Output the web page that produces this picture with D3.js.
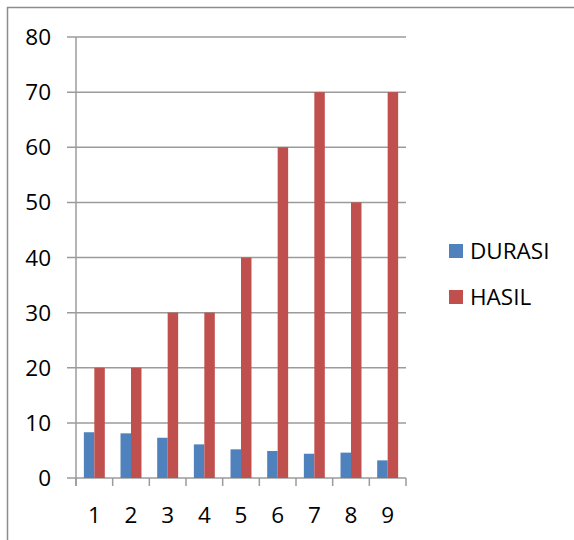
<!DOCTYPE html>
<html><head><meta charset="utf-8">
<script src="https://cdn.jsdelivr.net/npm/d3@7"></script>
<style>body{margin:0;background:#fff}svg{display:block}</style>
</head><body>
<script>
const categories = ["1","2","3","4","5","6","7","8","9"];
const durasi = [8.3, 8.1, 7.3, 6.1, 5.2, 4.9, 4.4, 4.6, 3.2];
const hasil = [20, 20, 30, 30, 40, 60, 70, 50, 70];
const seriesNames = ["DURASI", "HASIL"];
const seriesColors = ["#4F81BD", "#C0504D"];
const yTicks = [0,10,20,30,40,50,60,70,80];

(function(){
const W = 574, H = 540;
const svg = d3.select("body").append("svg").attr("width", W).attr("height", H);
const font = "'Open Sans', Calibri, sans-serif";

svg.append("line").attr("x1",7).attr("x2",W).attr("y1",7.5).attr("y2",7.5).attr("stroke","#8c8c8c").attr("stroke-width",1.5);
svg.append("line").attr("x1",7.5).attr("x2",7.5).attr("y1",7).attr("y2",H).attr("stroke","#8c8c8c").attr("stroke-width",1.5);

const pL = 76, pR = 406, pT = 37, pB = 478;
const x = d3.scaleBand().domain(categories).range([pL, pR]).paddingInner(0).paddingOuter(0);
const y = d3.scaleLinear().domain([0, 80]).range([pB, pT]);
const groupW = x.bandwidth() * 2/3.5;
const x1 = d3.scaleBand().domain(seriesNames).range([0, groupW]);

svg.append("g").selectAll("line").data(yTicks).join("line")
  .attr("x1", pL - 9).attr("x2", pR)
  .attr("y1", d => y(d)).attr("y2", d => y(d))
  .attr("stroke", "#9b9b9b").attr("stroke-width", 1.5);

const data = [durasi, hasil];
seriesNames.forEach((s, si) => {
  svg.append("g").selectAll("rect").data(categories).join("rect")
    .attr("x", (c) => x(c) + (x.bandwidth() - groupW)/2 + x1(s))
    .attr("width", x1.bandwidth())
    .attr("y", (c, i) => y(data[si][i]))
    .attr("height", (c, i) => y(0) - y(data[si][i]))
    .attr("fill", seriesColors[si]);
});

svg.append("line").attr("x1", pL).attr("x2", pL).attr("y1", pT).attr("y2", pB + 8)
  .attr("stroke", "#9b9b9b").attr("stroke-width", 1.5);
svg.append("g").selectAll("line").data(d3.range(categories.length + 1)).join("line")
  .attr("x1", i => pL + i * x.step()).attr("x2", i => pL + i * x.step())
  .attr("y1", pB).attr("y2", pB + 8)
  .attr("stroke", "#9b9b9b").attr("stroke-width", 1.5);

svg.append("g").selectAll("text").data(yTicks).join("text")
  .attr("x", 51).attr("y", d => y(d)).attr("dy", "0.36em")
  .attr("text-anchor", "end").attr("font-family", font).attr("font-size", 22.5)
  .attr("fill", "#000").text(d => d);

svg.append("g").selectAll("text").data(categories).join("text")
  .attr("x", c => x(c) + x.bandwidth()/2).attr("y", 523)
  .attr("text-anchor", "middle").attr("font-family", font).attr("font-size", 22.5)
  .attr("fill", "#000").text(c => c);

const lg = svg.append("g");
seriesNames.forEach((s, i) => {
  const yy = 251 + i * 46;
  lg.append("rect").attr("x", 449).attr("y", yy - 7).attr("width", 14).attr("height", 14).attr("fill", seriesColors[i]);
  lg.append("text").attr("x", 470).attr("y", yy).attr("dy", "0.36em")
    .attr("font-family", font).attr("font-size", 22.5).attr("fill", "#000").text(s);
});
})();
</script>
</body></html>
